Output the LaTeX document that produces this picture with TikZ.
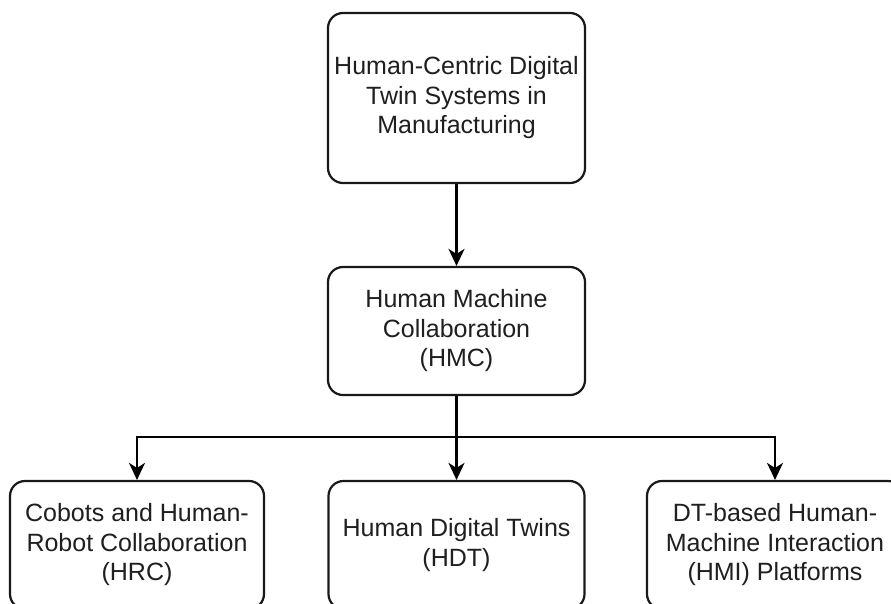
\documentclass[tikz,border=0pt]{standalone}
\usepackage{fontspec}
\setmainfont{Liberation Sans}
\usetikzlibrary{arrows.meta}
\begin{document}
\begin{tikzpicture}[x=1pt,y=-1pt,
  box/.style={draw=black!90, line width=2.2pt, rounded corners=15pt, fill=white,
    align=center, inner sep=0pt, text=black!88,
    font=\fontsize{25}{29.5}\selectfont},
  link/.style={draw=black, line width=2.1pt,
    -{Stealth[length=17pt,width=16pt,inset=5pt]}}]
  \useasboundingbox (0,0) rectangle (891,603);
  \clip (0,0) rectangle (891,603);
  % root and second level
  \node[box, minimum width=257pt, minimum height=170pt] (root) at (456.5,98)
    {Human-Centric Digital\\Twin Systems in\\Manufacturing};
  \node[box, minimum width=257pt, minimum height=128pt] (hmc) at (456.5,331)
    {Human Machine\\Collaboration\\(HMC)};
  % third level
  \node[box, minimum width=254pt, minimum height=128pt] (hrc) at (137,545)
    {Cobots and Human-\\Robot Collaboration\\(HRC)};
  \node[box, minimum width=256pt, minimum height=128pt] (hdt) at (456.5,545)
    {Human Digital Twins\\(HDT)};
  \node[box, minimum width=256pt, minimum height=128pt] (hmi) at (775,545)
    {DT-based Human-\\Machine Interaction\\(HMI) Platforms};
  \coordinate (hub) at (456.5,437);
  % connectors
  \draw[link] (root) -- (hmc);
  \draw[link] (hmc) -- (hdt);
  \draw[link] (hub) -| (hrc);
  \draw[link] (hub) -| (hmi);
\end{tikzpicture}
\end{document}
